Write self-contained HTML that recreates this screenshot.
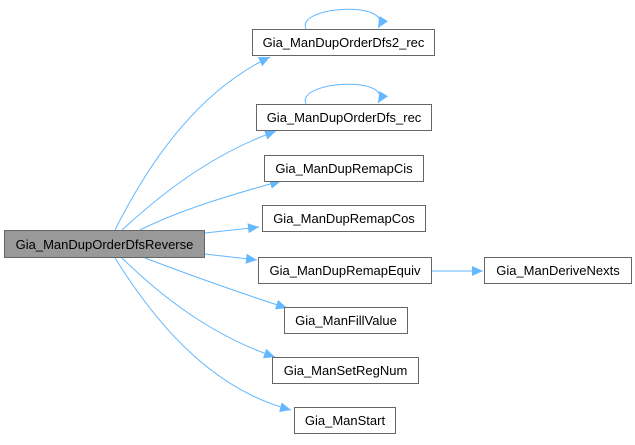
<!DOCTYPE html>
<html><head><style>
html,body{margin:0;padding:0;background:#fff;}
text{font-family:"Liberation Sans",Arial,sans-serif;font-size:13px;fill:#000;}
</style></head><body>
<svg width="635" height="440" viewBox="0 0 635 440" xmlns="http://www.w3.org/2000/svg">
<defs>
<marker id="a" markerWidth="12" markerHeight="12" refX="11" refY="5.5" orient="auto" markerUnits="userSpaceOnUse">
<path d="M0,0.5 L11,5.5 L0,10.5 Z" fill="#63b8ff"/>
</marker>
</defs>
<g fill="none" stroke="#63b8ff" stroke-width="1" marker-end="url(#a)">
<path d="M115,230 C150,160 200,90 270,57"/>
<path d="M122,230 C160,195 210,155 276,131"/>
<path d="M140,230 C180,210 230,195 281,181"/>
<path d="M205,233 L259,227"/>
<path d="M205,254 L257,260"/>
<path d="M145,258 C190,275 240,293 287,308"/>
<path d="M122,258 C160,295 210,335 275,357"/>
<path d="M115,258 C160,330 215,390 291,410"/>
<path d="M431,271 L483,271"/>
<path d="M306,29 C295,6 395,0 378,28"/>
<path d="M306,104 C295,81 395,75 378,103"/>
</g>
<g stroke="#666" stroke-width="1" fill="#fff">
<rect x="4.5" y="230.5" width="200" height="27" fill="#999"/>
<rect x="252.5" y="29.5" width="182" height="26"/>
<rect x="256.5" y="104.5" width="175" height="26"/>
<rect x="264.5" y="155.5" width="159" height="26"/>
<rect x="262.5" y="205.5" width="163" height="26"/>
<rect x="258.5" y="257.5" width="173" height="26"/>
<rect x="484.5" y="257.5" width="147" height="26"/>
<rect x="284.5" y="307.5" width="123" height="26"/>
<rect x="272.5" y="357.5" width="146" height="26"/>
<rect x="294.5" y="407.5" width="101" height="26"/>
</g>
<g text-anchor="middle">
<text x="104.5" y="249">Gia_ManDupOrderDfsReverse</text>
<text x="343.5" y="47">Gia_ManDupOrderDfs2_rec</text>
<text x="344" y="122">Gia_ManDupOrderDfs_rec</text>
<text x="344" y="173">Gia_ManDupRemapCis</text>
<text x="344" y="223">Gia_ManDupRemapCos</text>
<text x="345" y="275">Gia_ManDupRemapEquiv</text>
<text x="558" y="275">Gia_ManDeriveNexts</text>
<text x="346" y="325">Gia_ManFillValue</text>
<text x="345.5" y="375">Gia_ManSetRegNum</text>
<text x="345" y="425">Gia_ManStart</text>
</g>
</svg>
</body></html>
